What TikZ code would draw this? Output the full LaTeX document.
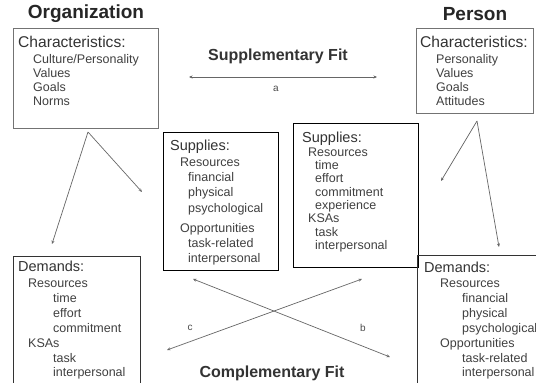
\documentclass[tikz,border=0pt]{standalone}
\usepackage{fontspec}
\setmainfont{Liberation Sans}
\usetikzlibrary{arrows.meta}
\begin{document}
\begin{tikzpicture}[x=1pt,y=-1pt,
  hd/.style={anchor=base west, inner sep=0pt, font=\fontsize{14.5}{16}\selectfont, text=black!80},
  chd/.style={hd, font=\fontsize{15.6}{17}\selectfont},
  it/.style={anchor=base west, inner sep=0pt, font=\fontsize{12.5}{14}\selectfont, text=black!75},
  ttl/.style={inner sep=0pt, font=\fontsize{19}{21}\selectfont\bfseries, text=black!85},
  fitlbl/.style={inner sep=0pt, font=\fontsize{16}{18}\selectfont\bfseries, text=black!80},
  lbl/.style={inner sep=0pt, font=\fontsize{10}{12}\selectfont, text=black!70},
  thinbox/.style={draw=black!55, line width=0.8pt, anchor=north west, inner sep=0pt},
  thickbox/.style={draw=black, line width=1.2pt, anchor=north west, inner sep=0pt},
  dembox/.style={draw=black!80, line width=1pt, anchor=north west, inner sep=0pt},
  conn/.style={draw=black!60, line width=0.7pt},
  tip/.style={-{Stealth[length=3.5pt,width=3pt]}},
  tips/.style={{Stealth[length=3.5pt,width=3pt]}-{Stealth[length=3.5pt,width=3pt]}},
]
\useasboundingbox (0,0) rectangle (536,383);
\fill[white] (0,0) rectangle (536,383);
\clip (0,0) rectangle (536,383);

% titles
\node[ttl] (orgtitle) at (86,14) {Organization};
\node[ttl] (pertitle) at (475,14) {Person};

% organization characteristics
\node[thinbox, minimum width=145pt, minimum height=100pt] (orgbox) at (13,28) {};
\node[chd] (orgch) at (18,47) {Characteristics:};
\node[it] (orgc1) at (33,63) {Culture/Personality};
\node[it] (orgc2) at (33,77) {Values};
\node[it] (orgc3) at (33,91) {Goals};
\node[it] (orgc4) at (33,105) {Norms};

% person characteristics
\node[thinbox, minimum width=117pt, minimum height=85pt] (perbox) at (416,28) {};
\node[chd] (perch) at (420,47) {Characteristics:};
\node[it] (perc1) at (436,63) {Personality};
\node[it] (perc2) at (436,77) {Values};
\node[it] (perc3) at (436,91) {Goals};
\node[it] (perc4) at (436,105) {Attitudes};

% supplementary fit
\node[fitlbl] (supfit) at (278,56) {Supplementary Fit};
\coordinate (supL) at (189,77);
\coordinate (supR) at (377,77);
\draw[conn,tips] (supL) -- (supR);
\node[lbl] (la) at (276,89) {a};

% organization supplies
\node[thickbox, minimum width=115pt, minimum height=138pt] (osbox) at (163,132) {};
\node[hd] (os0) at (170,150) {Supplies:};
\node[it] (os1) at (180,166) {Resources};
\node[it] (os2) at (188,181) {financial};
\node[it] (os3) at (188,196) {physical};
\node[it] (os4) at (188,212) {psychological};
\node[it] (os5) at (180,232) {Opportunities};
\node[it] (os6) at (188,247) {task-related};
\node[it] (os7) at (188,262) {interpersonal};

% person supplies
\node[thickbox, minimum width=125pt, minimum height=144pt] (psbox) at (293,123) {};
\node[hd] (ps0) at (302,142) {Supplies:};
\node[it] (ps1) at (308,156) {Resources};
\node[it] (ps2) at (315,169) {time};
\node[it] (ps3) at (315,182) {effort};
\node[it] (ps4) at (315,196) {commitment};
\node[it] (ps5) at (315,209) {experience};
\node[it] (ps6) at (308,222) {KSAs};
\node[it] (ps7) at (315,236) {task};
\node[it] (ps8) at (315,249) {interpersonal};

% organization demands
\node[dembox, minimum width=127pt, minimum height=140pt] (odbox) at (13,256) {};
\node[hd] (od0) at (18,271) {Demands:};
\node[it] (od1) at (28,287) {Resources};
\node[it] (od2) at (53,302) {time};
\node[it] (od3) at (53,317) {effort};
\node[it] (od4) at (53,332) {commitment};
\node[it] (od5) at (28,347) {KSAs};
\node[it] (od6) at (53,362) {task};
\node[it] (od7) at (53,376) {interpersonal};

% person demands
\node[dembox, minimum width=130pt, minimum height=140pt] (pdbox) at (417,255) {};
\node[hd] (pd0) at (424,272) {Demands:};
\node[it] (pd1) at (440,287) {Resources};
\node[it] (pd2) at (462,302) {financial};
\node[it] (pd3) at (462,317) {physical};
\node[it] (pd4) at (462,332) {psychological};
\node[it] (pd5) at (440,347) {Opportunities};
\node[it] (pd6) at (462,362) {task-related};
\node[it] (pd7) at (462,376) {interpersonal};

% characteristic arrows
\coordinate (orgapex) at (88,132);
\coordinate (orgtosup) at (142,192);
\coordinate (orgtodem) at (52,244);
\draw[conn,tip] (orgapex) -- (orgtosup);
\draw[conn,tip] (orgapex) -- (orgtodem);
\coordinate (perapex) at (477,121);
\coordinate (pertosup) at (441,181);
\coordinate (pertodem) at (499,247);
\draw[conn,tip] (perapex) -- (pertosup);
\draw[conn,tip] (perapex) -- (pertodem);

% complementary fit
\coordinate (bstart) at (193,279);
\coordinate (bend) at (390,357);
\coordinate (cstart) at (362,279);
\coordinate (cend) at (167,350);
\draw[conn,tips] (bstart) -- (bend);
\draw[conn,tips] (cstart) -- (cend);
\node[lbl] (lc) at (190,328) {c};
\node[lbl] (lb) at (363,328) {b};
\node[fitlbl] (compfit) at (272,373) {Complementary Fit};
\end{tikzpicture}
\end{document}
